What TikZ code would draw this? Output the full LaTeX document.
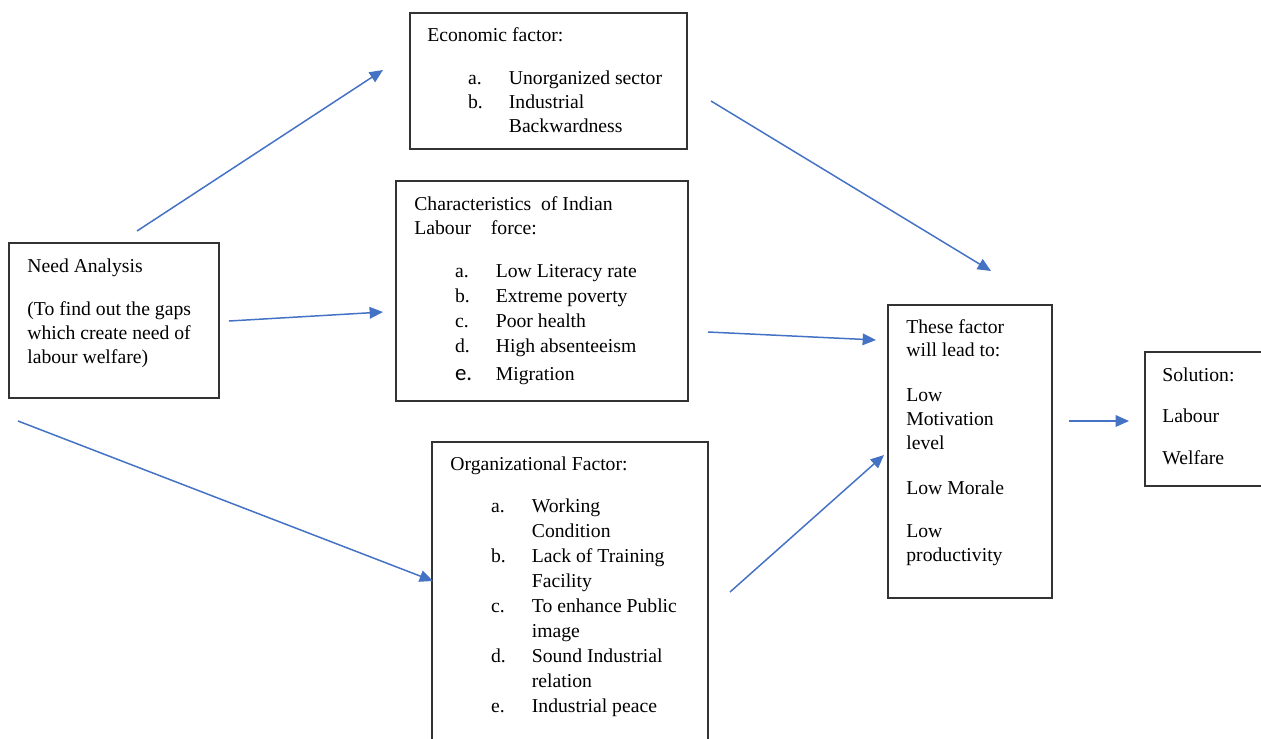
\documentclass[tikz,border=0pt]{standalone}
\usepackage{fontspec}
\setmainfont{Liberation Serif}
\newfontfamily\calibrifont{Carlito}
\usetikzlibrary{arrows.meta,fit}
\definecolor{arrowblue}{HTML}{4472C4}
\newcommand{\fitem}[2]{\hspace*{23.2pt}\makebox[23.2pt][l]{#1}#2}
\newcommand{\fcont}[1]{\hspace*{46.4pt}#1}
\tikzset{
  box/.style={draw=black!80, line width=0.7pt, inner sep=0pt},
  txt/.style={inner sep=0pt, anchor=base west, font=\fontsize{11.2}{13.6}\selectfont},
  txtwide/.style={txt, font=\fontsize{11.2}{14.2}\selectfont},
  flow/.style={draw=arrowblue, line width=0.85pt, -{Triangle[length=7.6pt,width=6.6pt]}}
}
\begin{document}
\begin{tikzpicture}[x=0.02cm, y=-0.02cm]
 \useasboundingbox (0,0) rectangle (1261,738);
 \clip (0,0) rectangle (1261,738);
 % boxes
 \node[box, fit={(9,243) (219,398)}] (need) {};
 \node[box, fit={(410,13) (687,149)}] (eco) {};
 \node[box, fit={(396,181) (688,401)}] (labour) {};
 \node[box, fit={(432,442) (708,760)}] (org) {};
 \node[box, fit={(888,305) (1052,598)}] (lead) {};
 \node[box, fit={(1145,352) (1263,486)}] (sol) {};
 % texts
 \node[txt] (needtxt) at (27,272) {\begin{tabular}[t]{@{}l@{}}
   Need Analysis\\[11.3pt]
   (To find out the gaps\\
   which create need of\\
   labour welfare)
 \end{tabular}};
 \node[txt] (ecotxt) at (427,41) {\begin{tabular}[t]{@{}l@{}}
   Economic factor:\\[11.3pt]
   \fitem{a.}{Unorganized sector}\\
   \fitem{b.}{Industrial}\\
   \fcont{Backwardness}
 \end{tabular}};
 \node[txtwide] (labourtxt) at (414,210) {\begin{tabular}[t]{@{}l@{}}
   Characteristics\ \ of Indian\\
   Labour\ \ \ \ force:\\[10.2pt]
   \fitem{a.}{Low Literacy\ rate}\\
   \fitem{b.}{Extreme poverty}\\
   \fitem{c.}{Poor health}\\
   \fitem{d.}{High absenteeism}\\[1.5pt]
   \fitem{{\calibrifont\fontsize{13}{14}\selectfont e.}}{Migration}
 \end{tabular}};
 \node[txtwide] (orgtxt) at (450,470) {\begin{tabular}[t]{@{}l@{}}
   Organizational\ Factor:\\[10.2pt]
   \fitem{a.}{Working}\\
   \fcont{Condition}\\
   \fitem{b.}{Lack of Training}\\
   \fcont{Facility}\\
   \fitem{c.}{To enhance Public}\\
   \fcont{image}\\
   \fitem{d.}{Sound Industrial}\\
   \fcont{relation}\\
   \fitem{e.}{Industrial peace}
 \end{tabular}};
 \node[txt] (leadtxt) at (906,333) {\begin{tabular}[t]{@{}l@{}}
   These\ factor\\
   will lead\ to:\\[11.9pt]
   Low\\
   Motivation\\
   level\\[11.9pt]
   Low Morale\\[10.8pt]
   Low\\
   productivity
 \end{tabular}};
 \node[txt] (soltxt) at (1162,381) {\begin{tabular}[t]{@{}l@{}}
   Solution:\\[10.2pt]
   Labour\\[10.2pt]
   Welfare
 \end{tabular}};
 % arrow ends
 \coordinate (needtoeco) at (137,231);
 \coordinate (ecoin) at (383,70);
 \coordinate (needtolab) at (229,321);
 \coordinate (labin) at (383,312);
 \coordinate (needtoorg) at (18,421);
 \coordinate (orgin) at (433,581);
 \coordinate (ecoout) at (711,101);
 \coordinate (leadin1) at (991,271);
 \coordinate (labout) at (708,332);
 \coordinate (leadin2) at (876,340);
 \coordinate (orgout) at (730,592);
 \coordinate (leadin3) at (884,455);
 \coordinate (leadout) at (1069,421);
 \coordinate (solin) at (1129,421);
 % arrows
 \draw[flow] (needtoeco) -- (ecoin);
 \draw[flow] (needtolab) -- (labin);
 \draw[flow] (needtoorg) -- (orgin);
 \draw[flow] (ecoout) -- (leadin1);
 \draw[flow] (labout) -- (leadin2);
 \draw[flow] (orgout) -- (leadin3);
 \draw[flow] (leadout) -- (solin);
\end{tikzpicture}
\end{document}
